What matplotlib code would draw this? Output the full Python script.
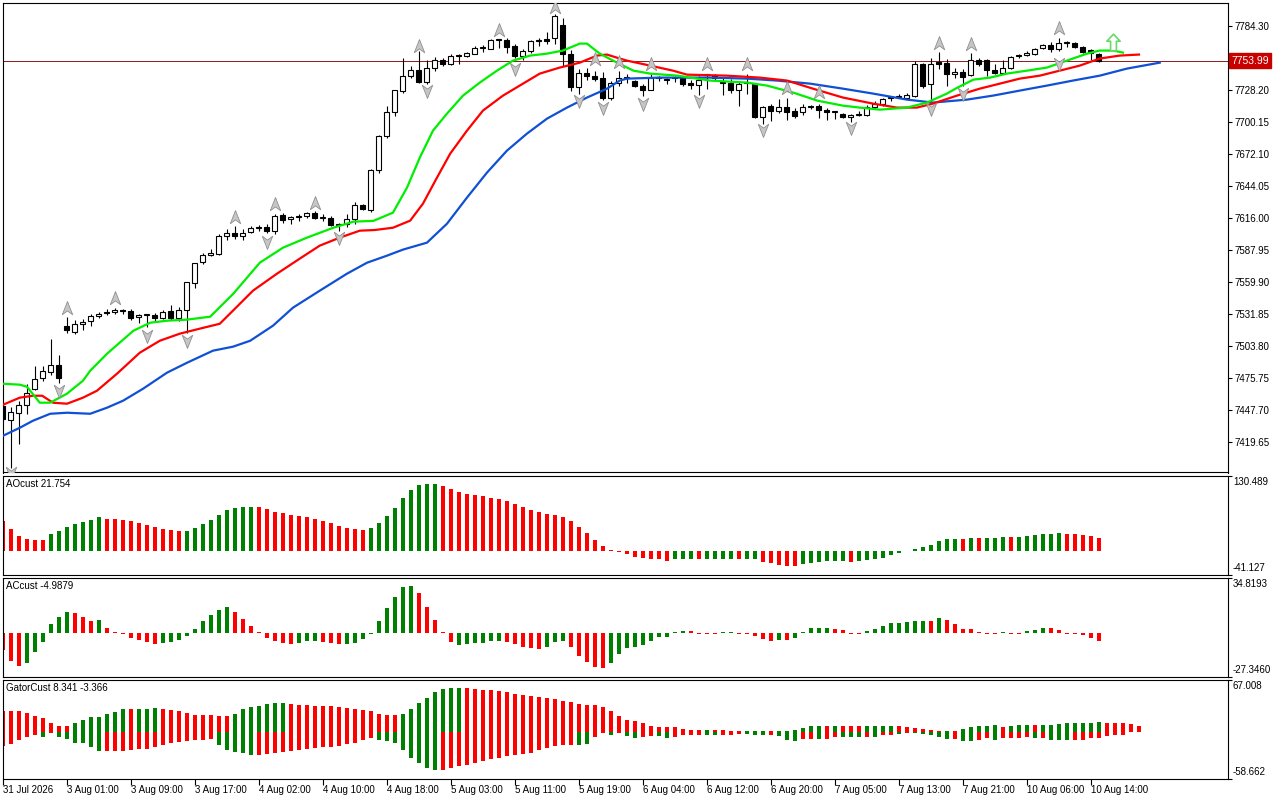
import numpy as np
import matplotlib
matplotlib.use("Agg")
import matplotlib.pyplot as plt
from matplotlib.path import Path

plt.rcParams['font.family'] = ['Liberation Sans', 'DejaVu Sans']
plt.rcParams['font.size'] = 7
plt.rcParams['axes.linewidth'] = 0.8

# hourly candles, 31 Jul 2026 .. 10 Aug 2026 15:00
opens = [7451.4, 7439.2, 7445.3, 7452.3, 7466.3, 7476.0, 7481.3, 7487.4, 7521.6, 7516.3,
         7523.3, 7526.0, 7530.4, 7533.9, 7533.9, 7535.6, 7534.8, 7529.5, 7531.2, 7531.2,
         7528.6, 7534.8, 7528.6, 7535.6, 7559.3, 7577.7, 7583.9, 7584.7, 7600.5, 7603.2,
         7600.5, 7604.0, 7607.5, 7608.4, 7604.9, 7618.9, 7615.4, 7617.2, 7618.1, 7620.7,
         7616.3, 7616.3, 7610.2, 7611.0, 7615.4, 7627.7, 7623.3, 7658.4, 7688.2, 7709.3,
         7727.7, 7740.8, 7746.1, 7735.6, 7747.9, 7754.9, 7751.4, 7758.4, 7758.4, 7760.1,
         7765.4, 7764.5, 7772.4, 7772.4, 7767.2, 7758.4, 7762.8, 7771.5, 7773.3, 7774.2,
         7785.6, 7760.1, 7731.2, 7743.5, 7740.8, 7739.1, 7721.6, 7734.7, 7739.1, 7736.5,
         7732.1, 7728.6, 7739.1, 7737.3, 7739.1, 7739.1, 7734.7, 7732.9, 7741.7, 7741.7,
         7734.7, 7734.7, 7728.6, 7734.7, 7733.8, 7704.9, 7714.5, 7710.2, 7713.7, 7710.2,
         7709.3, 7713.7, 7714.5, 7711.0, 7709.3, 7707.5, 7704.9, 7706.6, 7706.6, 7713.7,
         7716.3, 7721.6, 7722.4, 7721.6, 7723.3, 7751.4, 7733.8, 7753.1, 7752.2, 7742.6,
         7744.4, 7741.7, 7754.9, 7754.9, 7746.1, 7743.5, 7747.9, 7758.4, 7759.3, 7760.1,
         7765.4, 7768.0, 7764.5, 7769.8, 7769.8, 7766.3, 7763.6, 7760.1]
highs = [7453.1, 7450.6, 7455.8, 7470.7, 7486.5, 7486.5, 7510.2, 7496.2, 7529.5, 7526.9,
         7527.7, 7532.1, 7533.9, 7536.5, 7537.4, 7536.5, 7536.5, 7532.1, 7532.1, 7533.0,
         7535.6, 7540.0, 7538.3, 7560.2, 7576.8, 7585.6, 7589.1, 7602.3, 7606.7, 7609.3,
         7606.7, 7609.3, 7610.2, 7611.0, 7619.8, 7620.7, 7618.1, 7619.8, 7621.6, 7622.5,
         7619.8, 7618.1, 7611.9, 7619.8, 7630.3, 7628.6, 7659.3, 7689.1, 7714.5, 7728.6,
         7756.6, 7749.6, 7762.8, 7754.9, 7757.5, 7756.6, 7760.1, 7760.1, 7761.9, 7767.2,
         7768.0, 7773.3, 7773.3, 7774.2, 7768.9, 7764.5, 7772.4, 7774.2, 7779.4, 7795.2,
         7791.7, 7763.6, 7747.0, 7747.9, 7745.2, 7744.4, 7736.5, 7745.2, 7742.6, 7737.3,
         7733.8, 7742.6, 7740.8, 7739.1, 7740.8, 7740.8, 7737.3, 7740.8, 7742.6, 7742.6,
         7739.1, 7738.2, 7736.5, 7742.6, 7734.7, 7714.5, 7716.3, 7720.7, 7721.6, 7712.8,
         7716.3, 7715.4, 7716.3, 7712.8, 7710.2, 7708.4, 7707.5, 7710.2, 7715.4, 7718.9,
         7721.6, 7723.3, 7725.1, 7725.9, 7754.0, 7752.2, 7756.6, 7761.9, 7755.8, 7747.9,
         7747.0, 7761.0, 7756.6, 7755.8, 7751.4, 7754.9, 7758.4, 7760.1, 7762.8, 7765.4,
         7768.9, 7770.7, 7774.2, 7771.5, 7770.7, 7767.2, 7764.5, 7761.0]
lows = [7438.3, 7397.1, 7418.1, 7444.4, 7465.5, 7473.4, 7478.6, 7471.6, 7515.5, 7514.6,
        7518.1, 7521.6, 7528.6, 7531.2, 7532.1, 7532.1, 7526.9, 7524.2, 7520.7, 7525.1,
        7527.7, 7526.9, 7526.0, 7515.5, 7554.9, 7576.0, 7583.0, 7583.9, 7597.0, 7597.9,
        7597.0, 7603.2, 7604.9, 7603.2, 7602.3, 7611.9, 7611.0, 7613.7, 7616.3, 7615.4,
        7613.7, 7609.3, 7604.9, 7608.4, 7611.0, 7623.3, 7621.6, 7655.8, 7686.5, 7705.8,
        7725.9, 7739.1, 7734.7, 7733.8, 7745.2, 7749.6, 7750.5, 7751.4, 7757.5, 7760.1,
        7761.9, 7764.5, 7765.4, 7761.0, 7756.6, 7754.9, 7761.0, 7767.2, 7768.9, 7768.9,
        7749.6, 7727.7, 7725.1, 7737.3, 7736.5, 7719.8, 7719.8, 7732.1, 7734.7, 7731.2,
        7723.3, 7728.6, 7736.5, 7733.8, 7735.6, 7732.1, 7729.4, 7724.2, 7729.4, 7736.5,
        7724.2, 7725.9, 7714.5, 7725.1, 7704.0, 7698.7, 7701.4, 7708.4, 7702.3, 7704.0,
        7706.6, 7711.9, 7704.0, 7702.3, 7703.1, 7704.0, 7700.5, 7705.8, 7705.8, 7712.8,
        7714.5, 7718.9, 7721.6, 7721.6, 7722.4, 7730.3, 7716.3, 7747.0, 7732.1, 7739.1,
        7732.1, 7740.8, 7749.6, 7740.8, 7742.6, 7742.6, 7747.0, 7756.6, 7758.4, 7759.3,
        7764.5, 7761.9, 7762.8, 7766.3, 7765.4, 7761.0, 7754.9, 7753.1]
closes = [7440.0, 7446.2, 7452.3, 7462.8, 7475.1, 7482.1, 7487.4, 7476.0, 7518.1, 7523.3,
          7525.1, 7530.4, 7532.1, 7533.0, 7535.6, 7534.8, 7528.6, 7531.2, 7531.6, 7528.6,
          7533.9, 7528.6, 7535.6, 7560.2, 7576.8, 7583.9, 7585.6, 7600.5, 7603.2, 7600.5,
          7603.2, 7607.5, 7608.0, 7604.9, 7618.1, 7614.6, 7617.2, 7617.6, 7620.7, 7616.3,
          7616.7, 7610.2, 7610.6, 7615.4, 7627.7, 7624.2, 7658.4, 7688.2, 7709.3, 7728.6,
          7740.8, 7746.1, 7735.6, 7747.9, 7754.9, 7751.4, 7758.4, 7758.8, 7761.0, 7765.4,
          7765.8, 7772.4, 7772.8, 7766.3, 7758.4, 7762.8, 7771.5, 7771.9, 7771.5, 7793.5,
          7760.1, 7731.2, 7743.5, 7740.8, 7738.2, 7721.6, 7734.7, 7739.1, 7739.5, 7732.1,
          7728.6, 7739.1, 7739.5, 7737.7, 7739.5, 7733.8, 7732.9, 7737.3, 7742.1, 7739.1,
          7735.1, 7728.6, 7733.8, 7735.1, 7704.9, 7713.7, 7710.2, 7713.7, 7709.3, 7705.8,
          7713.7, 7714.5, 7711.0, 7709.3, 7709.7, 7704.9, 7706.6, 7707.0, 7713.7, 7716.3,
          7720.7, 7722.0, 7722.8, 7724.2, 7751.4, 7732.1, 7751.4, 7751.4, 7742.6, 7744.4,
          7740.0, 7754.9, 7751.4, 7746.1, 7743.5, 7747.9, 7757.5, 7758.8, 7761.0, 7764.5,
          7768.0, 7764.5, 7769.8, 7770.2, 7766.3, 7761.9, 7761.0, 7753.99]
last_price = 7753.99

# alligator lines: (bar, price)
jaw_bars = [0, 2.1, 3.75, 5.9, 8, 10.9, 13, 15, 17.5, 20.5, 23, 26.25, 28.75, 30.9, 33.75,
            36.25, 39.6, 43, 45.5, 48, 50, 53, 55.5, 58, 60.5, 63, 65.5, 68, 70.5, 73, 75.5,
            77.1, 78, 82.1, 88.4, 93, 96.75, 100.9, 105, 108.75, 113, 116.25, 120.5, 123.75,
            127.1, 130.5, 133.75, 137.1, 140.5, 144.6]
jaw_vals = [7425.1, 7432.1, 7438.3, 7444.4, 7445.3, 7444.4, 7449.7, 7455.8, 7466.3, 7480.4,
            7489.1, 7499.7, 7503.2, 7508.4, 7521.6, 7537.4, 7552.3, 7567.2, 7576.8, 7583.0,
            7588.3, 7594.4, 7611.0, 7633.9, 7655.8, 7675.1, 7690.0, 7703.1, 7712.8, 7721.6,
            7729.4, 7736.5, 7738.2, 7739.1, 7739.1, 7738.2, 7736.5, 7733.8, 7729.4, 7725.1,
            7719.8, 7717.2, 7719.8, 7723.3, 7727.7, 7732.1, 7736.5, 7740.8, 7747.0, 7752.2]
teeth_bars = [0, 2.1, 3.75, 4.9, 6.25, 8, 10, 11.75, 14.25, 17.1, 19.6, 22.1, 24.6, 27.1,
              28.75, 31.25, 34.25, 37.1, 39.6, 42.1, 44.6, 46.5, 48.75, 50.9, 52.5, 54.25,
              55.9, 58, 60, 62.5, 65, 67.1, 69.6, 72.1, 74.25, 75.5, 77.1, 78, 80.9, 83.75,
              85.5, 90.5, 94.6, 98, 101.25, 105, 108.75, 111.75, 114.25, 116.25, 119.25,
              122.1, 124.6, 127.1, 129.6, 132.1, 134.6, 137.1, 139.6, 142]
teeth_vals = [7452.3, 7458.5, 7460.2, 7460.2, 7454.1, 7453.2, 7458.5, 7464.6, 7479.5, 7497.9,
              7508.4, 7514.6, 7519.0, 7523.3, 7534.8, 7552.3, 7567.2, 7580.4, 7591.8, 7598.8,
              7604.9, 7605.5, 7607.5, 7613.7, 7628.6, 7651.4, 7672.4, 7692.6, 7710.2, 7723.3,
              7733.8, 7742.6, 7747.9, 7752.2, 7758.4, 7759.3, 7755.8, 7754.0, 7749.6, 7745.2,
              7741.7, 7740.8, 7739.1, 7736.5, 7729.4, 7721.6, 7716.3, 7712.8, 7712.8, 7716.3,
              7723.3, 7729.4, 7733.8, 7738.2, 7740.8, 7745.2, 7749.6, 7755.8, 7758.4, 7759.3]
lips_bars = [0, 2.1, 3, 4.6, 5.9, 8, 10, 10.9, 13, 16.3, 18.4, 20.5, 23, 25.9, 28.8, 32.1,
             35, 38, 41.3, 43.8, 46.3, 48.75, 50.5, 52.1, 53.75, 55.5, 57.5, 59.6, 61.75,
             63.75, 65.9, 68, 70, 72.1, 73, 74.6, 76.75, 78.8, 80.9, 84.3, 88.4, 93, 95.5,
             98.8, 101.8, 105, 107.1, 109.6, 113, 115.5, 118, 119.3, 121.3, 123.4, 125.5,
             128, 130.5, 133, 135.5, 137.1, 138.8, 140]
lips_vals = [7470.7, 7469.9, 7468.1, 7454.1, 7454.1, 7462.0, 7473.4, 7482.1, 7497.0, 7517.2,
             7524.2, 7526.0, 7526.9, 7529.5, 7549.7, 7576.8, 7590.0, 7598.8, 7607.5, 7612.8,
             7613.5, 7620.7, 7642.6, 7668.9, 7692.6, 7707.5, 7723.3, 7734.7, 7745.2, 7754.0,
             7758.4, 7760.1, 7762.8, 7768.9, 7768.9, 7760.1, 7752.2, 7745.2, 7742.6, 7740.8,
             7736.5, 7734.7, 7732.1, 7725.9, 7718.9, 7714.5, 7712.8, 7711.0, 7712.8, 7717.2,
             7725.1, 7730.3, 7737.3, 7739.1, 7742.6, 7745.2, 7747.9, 7754.0, 7760.1, 7762.8,
             7762.8, 7761.0]

# fractals
frac_up_bars = [8, 14, 29, 34, 39, 52, 62, 69, 74, 77, 81, 88, 93, 98, 102, 117, 121, 132]
frac_up_vals = [7537.4, 7546.2, 7617.2, 7628.6, 7629.5, 7767.2, 7781.2, 7801.4, 7755.8,
                7753.1, 7751.4, 7751.4, 7751.4, 7730.3, 7726.8, 7769.8, 7768.9, 7782.9]
frac_dn_bars = [1, 7, 18, 23, 33, 42, 53, 64, 72, 75, 80, 87, 95, 106, 116, 120, 132]
frac_dn_vals = [7392.7, 7464.6, 7512.8, 7508.4, 7595.3, 7598.8, 7727.7, 7747.0, 7718.9,
                7712.8, 7716.3, 7718.9, 7693.5, 7695.2, 7711.9, 7725.1, 7751.4]
signal_bar = 138.75
signal_price = 7770.7

# Awesome oscillator
ao_vals = [51.6, 37.8, 25.7, 20.5, 18.7, 18.7, 29.1, 34.3, 41.3, 46.5,
           49.9, 53.4, 58.6, 55.1, 55.1, 53.4, 51.6, 48.2, 44.7, 41.3,
           37.8, 36.1, 34.3, 34.3, 39.5, 46.5, 53.4, 62.1, 70.7, 74.2,
           75.9, 75.9, 75.9, 71.9, 67.8, 64.9, 62.1, 60.3, 58.0, 55.1,
           51.6, 47.6, 43.0, 39.5, 37.2, 36.1, 39.5, 47.6, 60.9, 74.2,
           91.5, 105.4, 114.1, 115.8, 115.8, 112.3, 107.1, 102.5, 99.0, 96.7,
           95.0, 91.5, 89.8, 86.3, 81.1, 76.5, 70.7, 67.2, 63.8, 62.1,
           58.6, 51.6, 41.3, 31.4, 18.7, 8.3, 1.8, -1.8, -6.1, -10.2,
           -13.3, -14.9, -14.9, -17.1, -14.9, -13.6, -13.6, -14.9, -13.6, -13.6,
           -13.6, -13.6, -13.6, -13.6, -14.9, -18.9, -21.7, -24.6, -26.3, -26.3,
           -23.5, -20.6, -18.9, -17.1, -17.1, -17.1, -18.9, -17.1, -15.9, -14.9,
           -11.8, -7.3, -3.2, -0.9, 2.5, 6.0, 10.1, 17.6, 20.5, 20.5,
           20.5, 22.2, 22.2, 22.2, 22.2, 23.3, 23.3, 24.5, 25.7, 27.4,
           29.1, 29.1, 30.8, 29.1, 29.1, 27.4, 25.7, 21.754]
ao_dir = ("RRRRRRGGGG" "GGGRRRRRRR" "RRRGGGGGGG" "GGRRRRRRRR" "RRRRRRGGGG"
          "GGGGGRRRRR" "RRRRRRRRRR" "RRRRRRRRRR" "RRRRGGGRGG" "GGRGGRRRRR"
          "GGGGGGRGGG" "GGGGGGGGGG" "RGRGGGRGGG" "GGGRRRRR")
ao_range = (-41.127, 130.489)

# Accelerator oscillator
ac_vals = [-10.7, -17.6, -20.7, -18.6, -11.7, -5.4, 5.7, 10.3, 13.4, 12.8,
           10.3, 7.7, 8.2, 3.1, 0.9, -0.9, -2.9, -4.4, -5.4, -6.9,
           -6.5, -5.4, -4.4, -1.9, 2.5, 7.5, 11.3, 14.4, 16.3, 13.4,
           8.8, 4.4, 0.9, -2.9, -4.8, -6.1, -6.9, -6.1, -4.8, -4.8,
           -5.4, -6.1, -6.9, -7.1, -6.1, -4.0, -0.9, 7.5, 15.9, 22.6,
           28.7, 29.5, 24.9, 16.5, 8.2, 0.9, -5.4, -7.5, -6.9, -6.1,
           -6.1, -4.8, -4.8, -5.9, -6.9, -8.6, -9.6, -10.0, -8.6, -5.4,
           -4.8, -8.6, -14.2, -18.0, -21.1, -21.8, -19.0, -13.4, -9.6, -8.6,
           -7.5, -4.8, -2.7, -2.3, 0.8, 1.3, 1.0, -0.9, -0.9, -0.9,
           0.9, 0.9, -0.9, -0.9, -1.7, -3.6, -4.8, -4.4, -4.4, -2.9,
           0.8, 3.1, 3.1, 3.1, 2.3, 1.9, -0.9, -0.9, 1.0, 2.7,
           4.4, 6.5, 6.5, 6.9, 7.7, 7.7, 7.5, 9.6, 8.2, 5.7,
           2.7, 2.5, 0.9, -0.9, -0.9, 0.9, -0.9, -0.9, 1.0, 1.9,
           3.3, 3.3, 1.9, -0.9, -0.9, -1.0, -3.3, -4.9879]
ac_dir = ("RRRGGGGGGR" "RRGRRRRRRR" "GGGGGGGGGR" "RRRRRRRGGG" "RRRGGGGGGG"
          "GGRRRRRGGG" "GGGRRRRRGG" "GRRRRRGGGG" "GGGGGGRRRR" "GGRRRRRGRG"
          "GGGGRRRRGG" "GGGGGGRGRR" "RRRRRGRRGG" "GRRRRRRR")
ac_range = (-27.346, 34.8193)

# Gator oscillator
gator_up = [27.5, 27.5, 27.5, 24.1, 21.1, 18.6, 11.4, 8.0, 8.0, 11.4,
            15.6, 19.0, 19.8, 23.2, 26.2, 29.6, 29.6, 29.6, 29.6, 30.8,
            29.6, 28.3, 27.5, 24.1, 22.0, 22.0, 22.0, 20.7, 20.7, 23.2,
            29.2, 31.7, 33.4, 35.9, 37.2, 37.2, 35.9, 35.1, 34.2, 33.4,
            33.4, 33.0, 32.1, 30.8, 29.6, 28.7, 27.0, 23.2, 22.0, 22.0,
            23.2, 29.6, 36.8, 43.1, 50.7, 55.0, 55.8, 56.7, 55.8, 55.0,
            54.1, 53.3, 52.4, 50.7, 49.0, 47.3, 46.5, 45.2, 44.0, 42.3,
            40.2, 38.0, 35.5, 34.7, 34.7, 32.1, 27.5, 21.1, 15.6, 14.3,
            11.4, 8.0, 6.7, 6.7, 6.7, 3.8, 2.9, 2.9, 2.9, 2.9,
            2.9, 1.7, 1.0, 1.0, 1.7, 1.7, 1.0, 1.7, 1.7, 2.9,
            5.9, 8.0, 8.0, 8.0, 8.0, 8.0, 8.0, 8.0, 8.0, 8.0,
            8.0, 8.0, 8.0, 6.7, 5.0, 3.8, 2.9, 1.7, 1.0, 1.7,
            4.2, 7.2, 8.0, 8.0, 9.3, 6.7, 8.0, 9.3, 9.3, 9.3,
            9.3, 9.3, 10.1, 11.4, 12.2, 12.2, 12.2, 13.1, 11.4, 11.4,
            11.4, 10.1, 8.341]
gator_up_dir = ("RRRRRRRRRG" "GGGGGGRGGG" "RRRRRRRRRG" "GGGGGGRRRR" "RRRRRRRRRR"
                "GGGGGGGGRR" "RRRRRRRRRR" "RRRRRRRRRR" "RRRRRRRRGR" "RRRGGGRGGG"
                "GGGRGRRRGG" "GGRRRRRRGR" "GGGGGRGGGR" "GGGGGGGGRR" "RRR")
gator_dn = [-17.0, -14.9, -9.8, -5.5, -3.4, -5.5, -1.3, -5.5, -8.9, -13.2,
            -13.2, -18.2, -23.7, -23.7, -23.7, -23.7, -22.5, -21.2, -21.2, -18.2,
            -16.1, -14.0, -11.9, -10.6, -9.8, -9.8, -8.9, -16.1, -22.5, -24.6,
            -26.7, -28.8, -28.8, -27.5, -25.9, -24.6, -23.7, -22.5, -21.2, -20.4,
            -19.1, -18.2, -17.4, -15.3, -14.0, -9.4, -7.7, -9.8, -11.0, -13.2,
            -22.5, -32.2, -38.5, -44.9, -48.1, -48.1, -45.7, -42.4, -41.5, -39.4,
            -36.4, -34.3, -32.2, -29.7, -28.8, -27.5, -25.9, -22.5, -19.5, -17.0,
            -16.1, -16.1, -16.1, -14.9, -5.5, -1.3, -3.4, -1.3, -4.3, -6.8,
            -5.5, -4.3, -4.3, -6.8, -5.5, -3.4, -3.4, -3.4, -3.4, -3.4,
            -3.4, -3.4, -1.7, -1.7, -3.4, -3.4, -3.4, -4.7, -9.8, -11.0,
            -8.5, -8.5, -8.5, -8.5, -6.0, -6.0, -6.0, -6.0, -6.0, -6.0,
            -3.4, -3.4, -2.6, -1.3, -1.3, -1.7, -3.4, -6.0, -8.5, -8.5,
            -11.0, -11.0, -9.8, -6.8, -9.8, -6.8, -6.8, -6.8, -6.0, -7.7,
            -7.7, -9.8, -9.8, -9.8, -9.8, -9.8, -7.7, -7.7, -4.3, -3.4,
            -3.366]
gator_dn_dir = ("RRRRRGRGGG" "GGGRRRRRRR" "RRRRRRRGGG" "GGRRRRRRRR" "RRRRRRRGGG"
                "GGGGGRRRRR" "RRRRRRRRRR" "RRGGRRGRGG" "RRGGRRRRGG" "RRRGGGRGGG"
                "RRGRRGGGRG" "RRGRGGGGGR" "GGRRGRRRRG" "RGGGRRRRRR" "R")
gator_range = (-58.662, 67.008)

tick_bars = [0, 8, 16, 24, 32, 40, 48, 56, 64, 72, 80, 88, 96, 104, 112, 120, 128, 136]
tick_labels = ['31 Jul 2026', '3 Aug 01:00', '3 Aug 09:00', '3 Aug 17:00', '4 Aug 02:00',
               '4 Aug 10:00', '4 Aug 18:00', '5 Aug 03:00', '5 Aug 11:00', '5 Aug 19:00',
               '6 Aug 04:00', '6 Aug 12:00', '6 Aug 20:00', '7 Aug 05:00', '7 Aug 13:00',
               '7 Aug 21:00', '10 Aug 06:00', '10 Aug 14:00']
price_ticks = [7784.30, 7728.20, 7700.15, 7672.10, 7644.05, 7616.00, 7587.95,
               7559.90, 7531.85, 7503.80, 7475.75, 7447.70, 7419.65]

GREEN = '#008000'
RED = '#ff0000'
W, H = 1280, 800
XLIM = (-0.06, 153.13)


def panel(fig, top, bottom):
    left, right = 2.5, 1228
    ax = fig.add_axes([left / W, 1 - bottom / H, (right - left) / W, (bottom - top) / H])
    ax.set_xlim(*XLIM)
    ax.tick_params(axis='x', bottom=False, labelbottom=False)
    ax.yaxis.tick_right()
    ax.tick_params(axis='y', length=3, width=0.8, pad=2, labelsize=7)
    return ax


def histogram(ax, values, dirs):
    colors = [GREEN if d == 'G' else RED for d in dirs]
    ax.bar(np.arange(len(values)), values, width=0.47, color=colors, linewidth=0)


def side_labels(ax, rng, fmt):
    lo, hi = rng
    ax.set_ylim(lo, hi)
    ax.set_yticks([lo, hi])
    ax.set_yticklabels([])
    ax.annotate(fmt.format(hi), xy=(1, 1), xycoords='axes fraction', xytext=(3.5, -1),
                textcoords='offset points', ha='left', va='top')
    ax.annotate(fmt.format(lo), xy=(1, 0), xycoords='axes fraction', xytext=(3.5, 1),
                textcoords='offset points', ha='left', va='bottom')


fig = plt.figure(figsize=(12.8, 8), dpi=100)

# ---- price chart ----
ax = panel(fig, 3, 472.5)
o = np.array(opens)
c = np.array(closes)
x = np.arange(len(o))
ax.vlines(x, lows, highs, color='black', lw=0.8, zorder=2)
body_fc = np.where(c >= o, 'white', 'black')
ax.bar(x, np.abs(c - o), bottom=np.minimum(o, c), width=0.62, color=body_fc,
       edgecolor='black', linewidth=0.8, zorder=3)

ax.plot(jaw_bars, jaw_vals, color='#0f50d4', lw=1.6, zorder=4)
ax.plot(teeth_bars, teeth_vals, color='#ff0000', lw=1.6, zorder=4)
ax.plot(lips_bars, lips_vals, color='#00ee00', lw=1.6, zorder=4)

up_mark = Path([(0, 1), (0.75, -0.9), (0, -0.35), (-0.75, -0.9), (0, 1)], closed=True)
dn_mark = Path([(0, -1), (0.75, 0.9), (0, 0.35), (-0.75, 0.9), (0, -1)], closed=True)
ax.plot(frac_up_bars, frac_up_vals, ls='none', marker=up_mark, ms=10, mfc='#c6c6c6',
        mec='#8f8f8f', mew=0.6, zorder=5)
ax.plot(frac_dn_bars, frac_dn_vals, ls='none', marker=dn_mark, ms=10, mfc='#c6c6c6',
        mec='#8f8f8f', mew=0.6, zorder=5)

block_arrow = Path([(0, 1), (0.8, 0.15), (0.35, 0.15), (0.35, -1), (-0.35, -1),
                    (-0.35, 0.15), (-0.8, 0.15), (0, 1)], closed=True)
ax.plot([signal_bar], [signal_price], ls='none', marker=block_arrow, ms=12, mfc='white',
        mec='#66d966', mew=1.2, zorder=6)

ax.axhline(last_price, color='#8b1a1a', lw=0.7, zorder=1)
ax.set_ylim(7392.9, 7804.5)
ax.set_yticks(price_ticks)
ax.set_yticklabels([f'{p:.2f}' for p in price_ticks])
ax.annotate(f'{last_price:.2f}', xy=(1, last_price), xycoords=('axes fraction', 'data'),
            xytext=(2.5, 0), textcoords='offset points', ha='left', va='center',
            color='white', fontsize=7.5, zorder=10, annotation_clip=False,
            bbox=dict(boxstyle='square,pad=0.22', fc='#c80000', ec='#c80000'))

# ---- AO ----
ax_ao = panel(fig, 475.5, 574.5)
histogram(ax_ao, ao_vals, ao_dir)
side_labels(ax_ao, ao_range, '{:.3f}')
ax_ao.text(0.003, 0.965, f'AOcust {ao_vals[-1]:.3f}', transform=ax_ao.transAxes,
           ha='left', va='top')

# ---- AC ----
ax_ac = panel(fig, 577.5, 676.5)
histogram(ax_ac, ac_vals, ac_dir)
side_labels(ax_ac, ac_range, '{:.4f}')
ax_ac.text(0.003, 0.965, f'ACcust {ac_vals[-1]:.4f}', transform=ax_ac.transAxes,
           ha='left', va='top')

# ---- Gator ----
ax_g = panel(fig, 679.5, 778.5)
histogram(ax_g, gator_up, gator_up_dir)
histogram(ax_g, gator_dn, gator_dn_dir)
side_labels(ax_g, gator_range, '{:.3f}')
ax_g.text(0.003, 0.965, f'GatorCust {gator_up[-1]:.3f} {gator_dn[-1]:.3f}',
          transform=ax_g.transAxes, ha='left', va='top')
ax_g.tick_params(axis='x', bottom=True, labelbottom=True, length=4, width=0.8, pad=1,
                 labelsize=7)
ax_g.set_xticks(tick_bars)
ax_g.set_xticklabels(tick_labels, ha='left')

fig.savefig('out.png', dpi=100)
